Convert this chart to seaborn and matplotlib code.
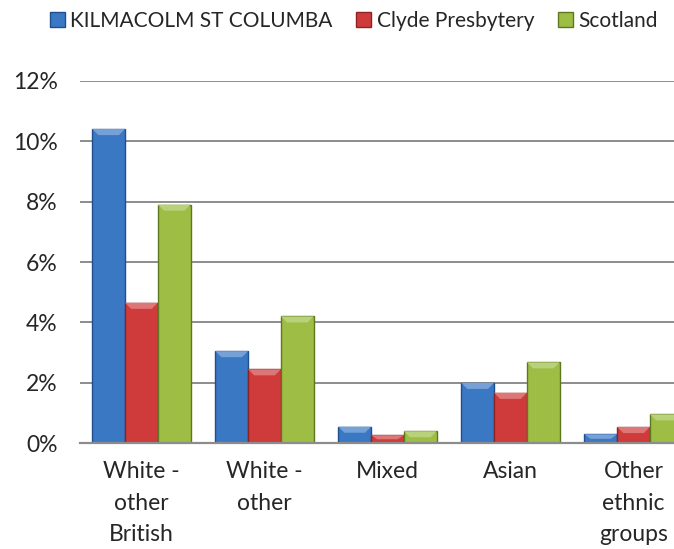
import pandas as pd
import matplotlib.pyplot as plt
import seaborn as sns
from matplotlib.ticker import FuncFormatter
from matplotlib.patches import Polygon
from matplotlib.colors import to_rgb

# 数据（从图上读取，单位：%）
groups = ['White -\nother\nBritish', 'White -\nother', 'Mixed', 'Asian', 'Other\nethnic\ngroups']
series = ['KILMACOLM ST COLUMBA', 'Clyde Presbytery', 'Scotland']
kilmacolm = [10.4, 3.05, 0.55, 2.0, 0.3]
clyde = [4.65, 2.45, 0.27, 1.67, 0.54]
scotland = [7.9, 4.2, 0.4, 2.68, 0.96]

colors = ['#3b78c4', '#cf3b3b', '#9dbd44']
edges = ['#1f4e8c', '#8c2222', '#5c7820']

df = pd.DataFrame({
    'group': groups * 3,
    'area': [s for s in series for _ in groups],
    'value': kilmacolm + clyde + scotland,
})

sns.set_style('white')
plt.rcParams['font.family'] = ['Lato', 'DejaVu Sans']

fig = plt.figure(figsize=(6.74, 5.49), dpi=100)
ax = fig.add_axes([0.1187, 0.1925, 0.9125, 0.6605])

sns.barplot(data=df, x='group', y='value', hue='area', hue_order=series,
            order=groups, palette=colors, saturation=1, width=0.8,
            ax=ax, legend=False, linewidth=1.0)


def lighter(c, f):
    r, g, b = to_rgb(c)
    return (r + (1 - r) * f, g + (1 - g) * f, b + (1 - b) * f)


# 边框颜色 + 顶部斜面高光
for cont, ec, fc in zip(ax.containers, edges, colors):
    for bar in cont:
        bar.set_edgecolor(ec)
        x0, w, h = bar.get_x(), bar.get_width(), bar.get_height()
        bh = min(0.2, h / 2)
        dx = 0.05
        top = Polygon([(x0, h), (x0 + w, h), (x0 + w - dx, h - bh), (x0 + dx, h - bh)],
                      closed=True, facecolor=lighter(fc, 0.3), edgecolor='none', zorder=3)
        ax.add_patch(top)

ax.set_ylim(0, 12)
ax.set_yticks(range(0, 13, 2))
ax.yaxis.set_major_formatter(FuncFormatter(lambda v, p: f'{v:.0f}%'))
ax.set_xlim(-0.5, 4.5)
ax.grid(axis='y', color='#8c8c8c', linewidth=1.4)
ax.set_axisbelow(True)
for s in ['left', 'top', 'right']:
    ax.spines[s].set_visible(False)
ax.spines['bottom'].set_color('#8c8c8c')
ax.spines['bottom'].set_linewidth(1.6)
ax.tick_params(axis='y', length=0, pad=16, labelsize=16.5)
ax.tick_params(axis='x', length=0, pad=13, labelsize=16.5)
for t in ax.get_xticklabels():
    t.set_linespacing(1.6)
ax.set_xlabel('')
ax.set_ylabel('')

# 图例
handles = [plt.Rectangle((0, 0), 1, 1, facecolor=c, edgecolor=e)
           for c, e in zip(colors, edges)]
fig.legend(handles, series, loc='upper center', bbox_to_anchor=(0.525, 1.015),
           ncol=3, frameon=False, fontsize=15, handlelength=0.72,
           handleheight=0.72, handletextpad=0.25, columnspacing=1.15)

fig.savefig('out.png', dpi=100)
